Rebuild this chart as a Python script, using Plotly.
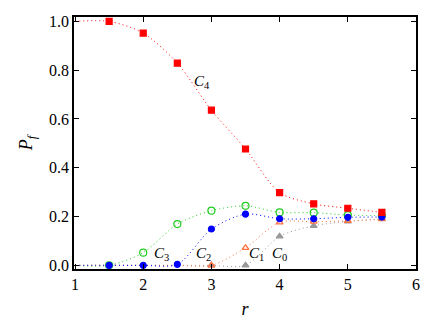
import plotly.graph_objects as go

r = [1.5, 2.0, 2.5, 3.0, 3.5, 4.0, 4.5, 5.0, 5.5]
C4 = [1.0, 0.952, 0.829, 0.636, 0.477, 0.298, 0.252, 0.234, 0.217]
C3 = [0.0, 0.052, 0.169, 0.224, 0.244, 0.217, 0.216, 0.206, 0.204]
C2 = [0.0, 0.0, 0.004, 0.149, 0.210, 0.191, 0.191, 0.197, 0.198]
C1 = [0.0, 0.0, 0.0, 0.0, 0.072, 0.176, 0.179, 0.182, 0.189]
C0 = [0.0, 0.0, 0.0, 0.0, 0.0, 0.119, 0.162, 0.180, 0.190]
r_start = 1.0  # curves continue flat to the left axis

FONT = "Liberation Serif"

series = [
    # name, values, colour, symbol, size, first marker index
    ("C0", C0, "#999999", "triangle-up", 6, 3),
    ("C1", C1, "#ff7040", "triangle-up-open", 6, 3),
    ("C3", C3, "#22cc22", "circle-open", 7, 0),
    ("C2", C2, "#0000ff", "circle", 6, 0),
    ("C4", C4, "#ff0000", "square", 6, 0),
]

labels = [
    ("4", 2.86, 0.75),
    ("3", 2.27, 0.046),
    ("2", 2.88, 0.046),
    ("1", 3.66, 0.046),
    ("0", 4.0, 0.046),
]

fig = go.Figure()
for name, vals, col, sym, size, i0 in series:
    fig.add_trace(go.Scatter(
        x=[r_start] + r, y=[vals[0]] + vals, mode="lines",
        line=dict(color=col, width=1, dash="1px,3px", shape="spline", smoothing=0.8),
        showlegend=False, hoverinfo="skip"))
for name, vals, col, sym, size, i0 in series:
    fig.add_trace(go.Scatter(
        x=r[i0:], y=vals[i0:], mode="markers",
        marker=dict(color=col, symbol=sym, size=size,
                    line=dict(color=col, width=1.2)),
        showlegend=False, cliponaxis=False))

for sub, x, y in labels:
    fig.add_annotation(x=x, y=y, text="<i>C</i><sub>" + sub + "</sub>", showarrow=False,
                       font=dict(family=FONT, size=15, color="black"),
                       xanchor="center", yanchor="middle")

axis_common = dict(showline=True, linecolor="black", linewidth=1.5, mirror="ticks",
                   ticks="inside", ticklen=5, tickwidth=1, tickcolor="black",
                   showgrid=False, zeroline=False, automargin=False,
                   tickfont=dict(family=FONT, size=16, color="black"))

fig.update_layout(
    template="none",
    width=428, height=314,
    margin=dict(l=66, r=20, t=9, b=53),
    paper_bgcolor="white", plot_bgcolor="white",
    font=dict(family=FONT, color="black"),
    xaxis=dict(range=[0.985, 6.0], tickvals=[1, 2, 3, 4, 5, 6],
               title=dict(text="<i>r</i>", standoff=10,
                          font=dict(family=FONT, size=18, color="black")),
               **axis_common),
    yaxis=dict(range=[-0.015, 1.018], tickvals=[0, 0.2, 0.4, 0.6, 0.8, 1.0],
               tickformat=".1f",
               title=dict(text="<i>P<sub>f</sub></i>", standoff=12,
                          font=dict(family=FONT, size=18, color="black")),
               **axis_common),
)

fig.write_html("out.html")
